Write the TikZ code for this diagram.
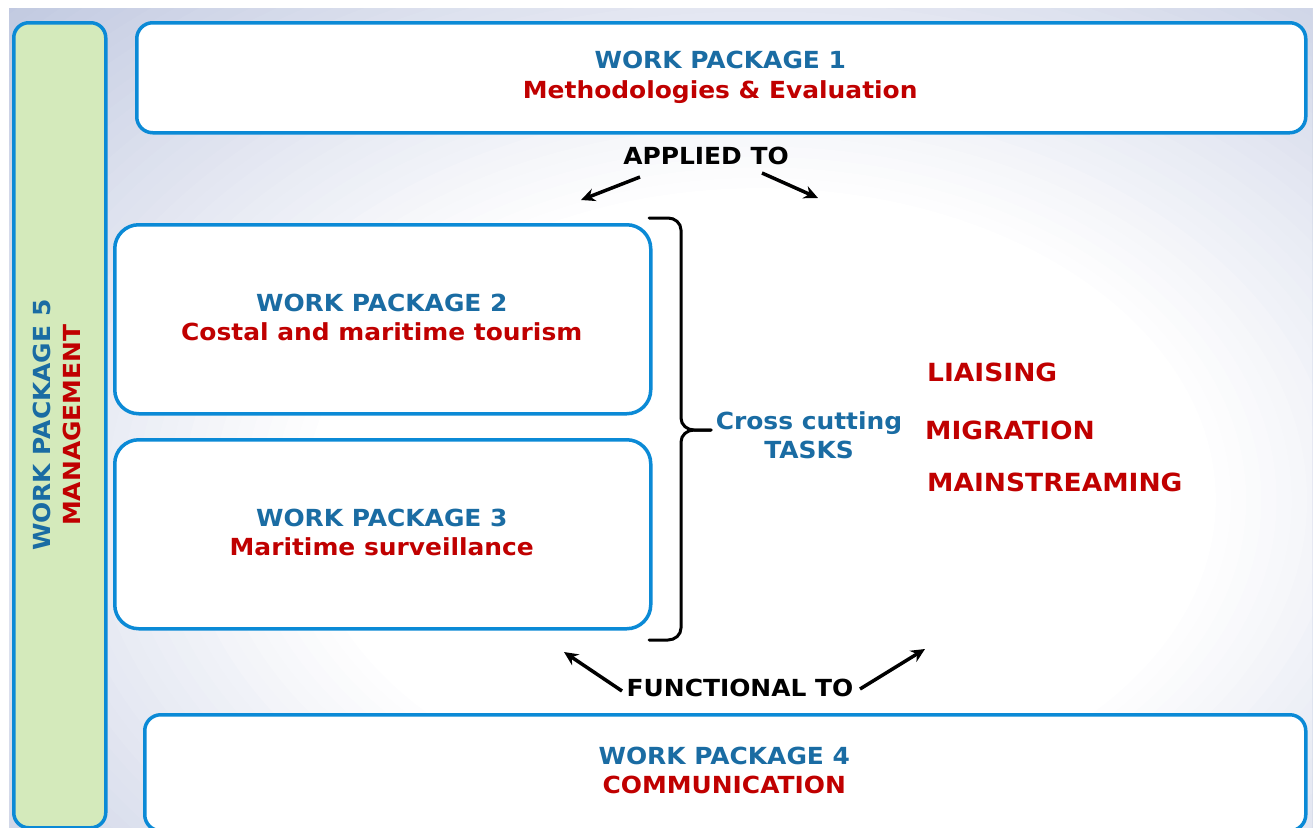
\documentclass[tikz,border=0pt]{standalone}
\usepackage{fontspec}
\usetikzlibrary{arrows.meta}
\setmainfont{DejaVu Sans}[FakeStretch=1.06]
\definecolor{bord}{HTML}{0B8AD6}
\definecolor{txtblue}{HTML}{1A6CA3}
\definecolor{txtred}{HTML}{C00000}
\definecolor{wpgreen}{HTML}{D4EABB}
\definecolor{bgd}{HTML}{C0C8E0}
\begin{document}
\begin{tikzpicture}[x=1pt,y=-1pt,
  wpbox/.style={draw=bord, line width=3.5pt, fill=white, rounded corners=16pt, anchor=north west, inner sep=0pt, align=center},
  wptext/.style={font=\fontsize{23.5}{29.5}\selectfont\bfseries, align=center},
  blk/.style={font=\fontsize{23.5}{29}\selectfont\bfseries, text=black},
  task/.style={font=\fontsize{25}{30}\selectfont\bfseries, text=txtred, anchor=west, inner sep=0pt},
  arr/.style={-{Stealth[length=14pt,width=13pt]}, line width=3.5pt, black},
  brace/.style={line width=3pt, black, line cap=round}
]
\useasboundingbox (0,0) rectangle (1316,827);
\fill[white] (0,0) rectangle (1316,827);
\begin{scope}
\clip (9,8) rectangle (1312,827);
\fill[bgd] (9,8) rectangle (1312,827);
\foreach \k in {0,...,40}{
  \pgfmathtruncatemacro\p{2.5*\k}
  \pgfmathsetmacro\rx{760*(1.4-0.02*\k)}
  \pgfmathsetmacro\ry{520*(1.4-0.02*\k)}
  \fill[white!\p!bgd] (760,500) ellipse [x radius=\rx, y radius=\ry];
}
\end{scope}

% boxes
\node[wpbox, fill=wpgreen, rounded corners=15pt, minimum width=92pt, minimum height=805pt] (wp5) at (12,21) {};
\node[wpbox, minimum width=1169pt, minimum height=110pt] (wp1) at (135,21) {};
\node[wpbox, rounded corners=24pt, minimum width=536pt, minimum height=189pt] (wp2) at (113,223) {};
\node[wpbox, rounded corners=24pt, minimum width=536pt, minimum height=189pt] (wp3) at (113,438) {};
\node[wpbox, minimum width=1161pt, minimum height=116pt] (wp4) at (143,713) {};

% texts in boxes
\node[wptext] (t1) at ([xshift=-1pt,yshift=0.5pt]wp1.center) {\textcolor{txtblue}{WORK PACKAGE 1}\\\textcolor{txtred}{Methodologies \& Evaluation}};
\node[wptext] (t2) at ([xshift=-1pt,yshift=2pt]wp2.center) {\textcolor{txtblue}{WORK PACKAGE 2}\\\textcolor{txtred}{Costal and maritime tourism}};
\node[wptext] (t3) at ([xshift=-1pt,yshift=2pt]wp3.center) {\textcolor{txtblue}{WORK PACKAGE 3}\\\textcolor{txtred}{Maritime surveillance}};
\node[wptext] (t4) at ([xshift=-1pt,yshift=2.5pt]wp4.center) {\textcolor{txtblue}{WORK PACKAGE 4}\\\textcolor{txtred}{COMMUNICATION}};
\node[wptext, rotate=90] (t5) at ([xshift=-3pt]wp5.center) {\textcolor{txtblue}{WORK PACKAGE 5}\\\textcolor{txtred}{MANAGEMENT}};

% labels
\node[blk] (applied) at (706,156) {APPLIED TO};
\node[blk] (functional) at (740,688) {FUNCTIONAL TO};
\node[wptext, text=txtblue] (cross) at (809,435) {Cross cutting\\TASKS};
\node[task] (liaising) at (927,372) {LIAISING};
\node[task] (migration) at (925,430) {MIGRATION};
\node[task] (mainstream) at (927,482) {MAINSTREAMING};

% arrows
\coordinate (a1s) at (640,177); \coordinate (a1e) at (581,200);
\coordinate (a2s) at (762,173); \coordinate (a2e) at (818,198);
\coordinate (f1s) at (622,691); \coordinate (f1e) at (564,652);
\coordinate (f2s) at (860,689); \coordinate (f2e) at (925,649);
\draw[arr] (a1s) -- (a1e);
\draw[arr] (a2s) -- (a2e);
\draw[arr] (f1s) -- (f1e);
\draw[arr] (f2s) -- (f2e);

% brace
\coordinate (btop) at (649,218);
\coordinate (btip) at (711,430);
\coordinate (bbot) at (649,640);
\draw[brace] (btop) -- (668,218) to[out=0,in=90] (681,230) -- (681,418) to[out=-90,in=180] (694,430) -- (btip);
\draw[brace] (btip) -- (694,430) to[out=180,in=90] (681,442) -- (681,628) to[out=-90,in=0] (668,640) -- (bbot);
\end{tikzpicture}
\end{document}
